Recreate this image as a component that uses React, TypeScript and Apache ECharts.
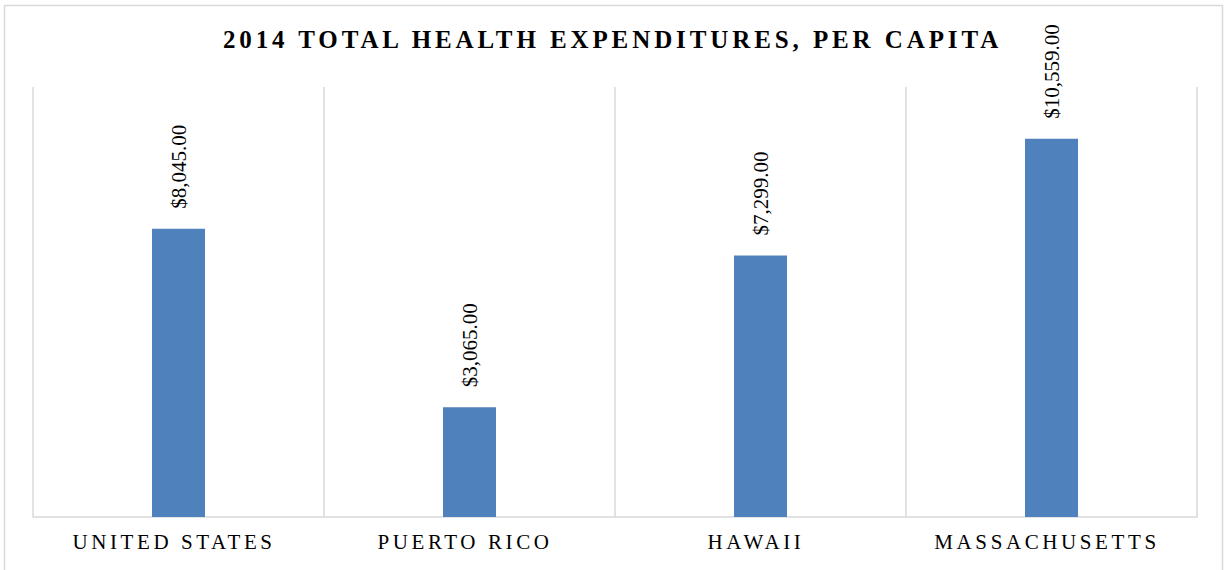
import React, { useEffect, useRef } from "react";
import * as echarts from "echarts";

const categories = ["UNITED STATES", "PUERTO RICO", "HAWAII", "MASSACHUSETTS"];
const values = [8045, 3065, 7299, 10559];
const titleText = "2014 TOTAL HEALTH EXPENDITURES, PER CAPITA";

const FONT = "'Liberation Serif', 'Times New Roman', serif";

function fmt(v: number) {
  return "$" + v.toLocaleString("en-US", { minimumFractionDigits: 2, maximumFractionDigits: 2 });
}

function applySpacing(el: HTMLDivElement) {
  const texts = el.querySelectorAll("text");
  texts.forEach((t) => {
    const s = t.textContent || "";
    if (s === titleText) t.setAttribute("letter-spacing", "3.9");
    else if (categories.includes(s)) t.setAttribute("letter-spacing", "3.6");
  });
}

export default function App() {
  const ref = useRef<HTMLDivElement>(null);
  useEffect(() => {
    if (!ref.current) return;
    const chart = echarts.init(ref.current, undefined, { renderer: "svg" });
    chart.setOption({
      animation: false,
      backgroundColor: "#ffffff",
      title: {
        text: titleText,
        left: "center",
        top: 22,
        textStyle: { fontFamily: FONT, fontWeight: "bold", fontSize: 25, color: "#000000" },
      },
      graphic: [
        {
          type: "rect",
          shape: { x: 4.5, y: 5.5, width: 1218, height: 600 },
          style: { fill: "none", stroke: "#d9d9d9", lineWidth: 1.5 },
          silent: true,
        },
      ],
      grid: { left: 33, right: 28, top: 87, bottom: 53 },
      xAxis: {
        type: "category",
        data: categories,
        axisLine: { show: true, lineStyle: { color: "#d9d9d9", width: 1.5 } },
        axisTick: { show: false },
        splitLine: { show: true, lineStyle: { color: "#d9d9d9", width: 1.5 } },
        axisLabel: {
          fontFamily: FONT,
          fontSize: 21,
          color: "#000000",
          margin: 14,
          padding: [0, 9, 0, 0],
        },
      },
      yAxis: {
        type: "value",
        min: 0,
        max: 12000,
        show: false,
        splitLine: { show: false },
      },
      series: [
        {
          type: "bar",
          data: values,
          barWidth: 53,
          itemStyle: { color: "#4F81BD" },
          label: {
            show: true,
            position: "top",
            rotate: 90,
            align: "left",
            verticalAlign: "middle",
            distance: 20,
            fontFamily: FONT,
            fontSize: 21,
            color: "#000000",
            formatter: (p: any) => fmt(p.value),
          },
        },
      ],
    });
    applySpacing(ref.current);
    const raf = requestAnimationFrame(() => ref.current && applySpacing(ref.current));
    return () => {
      cancelAnimationFrame(raf);
      chart.dispose();
    };
  }, []);
  return (
    <div
      ref={ref}
      style={{ position: "absolute", left: 0, top: 0, width: 1225, height: 570 }}
    />
  );
}
